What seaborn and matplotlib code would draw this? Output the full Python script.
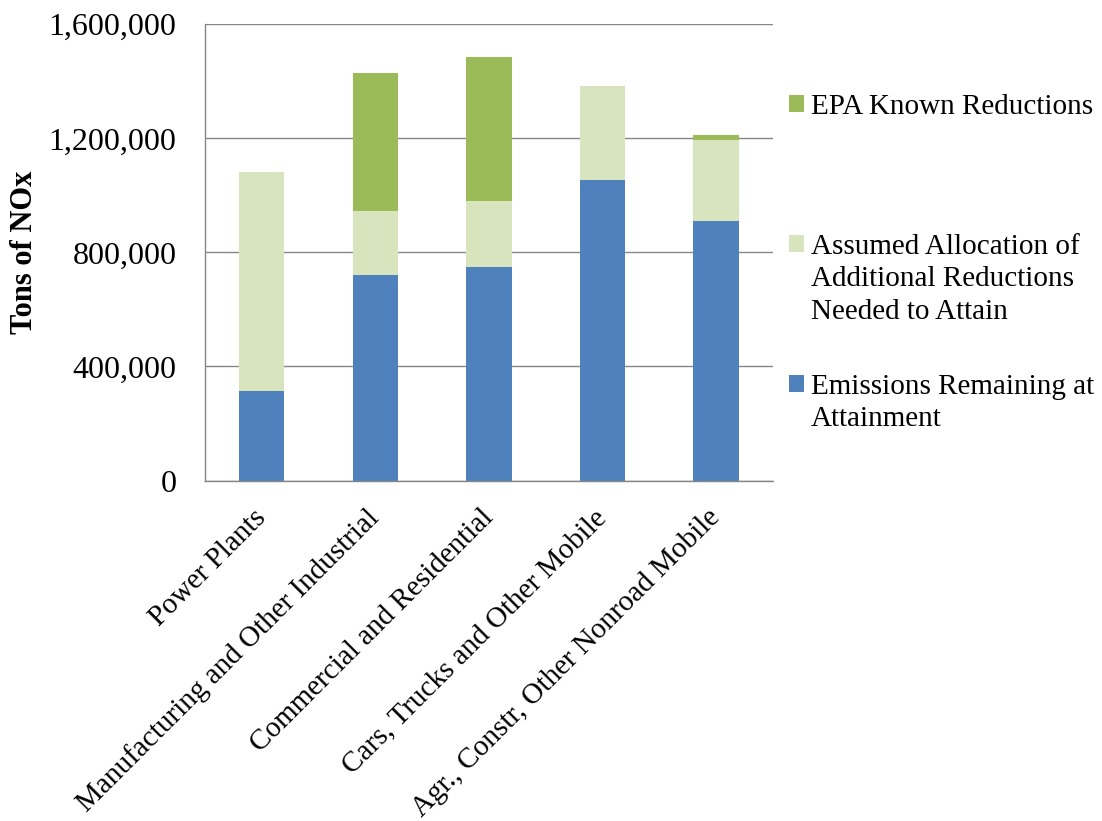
import numpy as np
import pandas as pd
import matplotlib
matplotlib.use("Agg")
import matplotlib.pyplot as plt
import seaborn as sns
from matplotlib.patches import Patch
from matplotlib.ticker import StrMethodFormatter

# values (tons of NOx)
categories = [
    "Power Plants",
    "Manufacturing and Other Industrial",
    "Commercial and Residential",
    "Cars, Trucks and Other Mobile",
    "Agr., Constr, Other Nonroad Mobile",
]
remaining = [313000, 721000, 748000, 1054000, 910000]
allocation = [768000, 225000, 233000, 328000, 284000]
epa_known = [0, 482000, 504000, 0, 18000]

legend_lines = {
    "epa": ["EPA Known Reductions"],
    "allocation": ["Assumed Allocation of", "Additional Reductions", "Needed to Attain"],
    "remaining": ["Emissions Remaining at", "Attainment"],
}
colors = {"remaining": "#4F81BD", "allocation": "#D7E4BD", "epa": "#9BBB59"}
y_ticks = [0, 400000, 800000, 1200000, 1600000]

df = pd.DataFrame({
    "category": categories,
    "remaining": remaining,
    "allocation": allocation,
    "epa": epa_known,
})
df["top_remaining"] = df["remaining"]
df["top_allocation"] = df["top_remaining"] + df["allocation"]
df["top_epa"] = df["top_allocation"] + df["epa"]

sns.set_style("white")
plt.rcParams["font.family"] = ["Liberation Serif", "DejaVu Serif"]
plt.rcParams["text.color"] = "black"
plt.rcParams["axes.labelcolor"] = "black"

grid_color = "#868686"

fig = plt.figure(figsize=(11.02, 8.21), dpi=100)
ax = fig.add_axes([0.186, 0.4147, 0.5154, 0.5557])

# stacked bars: draw the tallest level first, then cover it
for key in ["epa", "allocation", "remaining"]:
    sns.barplot(data=df, x="category", y="top_" + key, color=colors[key],
                saturation=1, width=0.4, errorbar=None, edgecolor="none",
                linewidth=0, ax=ax)

ax.set_xlim(-0.5, 4.5)
ax.set_ylim(0, 1600000)
ax.set_yticks(y_ticks)
ax.yaxis.set_major_formatter(StrMethodFormatter("{x:,.0f}"))
ax.set_axisbelow(True)
ax.yaxis.grid(True, color=grid_color, linewidth=1)
ax.xaxis.grid(False)

for side in ["top", "right"]:
    ax.spines[side].set_visible(False)
for side in ["left", "bottom"]:
    ax.spines[side].set_color(grid_color)
    ax.spines[side].set_linewidth(1)

ax.set_xticks(np.arange(-0.5, 5, 1), minor=True)
ax.tick_params(axis="x", which="major", length=0, pad=24, labelsize=21,
               labelcolor="black")
ax.tick_params(axis="x", which="minor", length=6.5, color=grid_color, width=1, direction="out")
ax.tick_params(axis="y", length=6.5, color=grid_color, width=1, direction="out",
               pad=14, labelsize=23, labelcolor="black")
ax.set_xticks(range(len(categories)))
ax.set_xticklabels(categories, rotation=45, ha="right", va="center",
                   rotation_mode="anchor")

ax.set_xlabel("")
ax.set_ylabel("Tons of NOx", fontsize=22, fontweight="bold", labelpad=7)


def add_entry(key, top):
    lines = legend_lines[key]
    handles = [Patch(facecolor=colors[key], edgecolor="none")]
    handles += [Patch(facecolor="none", edgecolor="none") for _ in lines[1:]]
    fig.legend(handles, lines, loc="upper left", bbox_to_anchor=(0.716, top),
               frameon=False, fontsize=21, handlelength=0.5, handleheight=0.5,
               handletextpad=0.25, labelspacing=0.22, borderpad=0,
               borderaxespad=0)


add_entry("epa", 0.8855)
add_entry("allocation", 0.715)
add_entry("remaining", 0.5445)

fig.savefig("out.png", dpi=100)
